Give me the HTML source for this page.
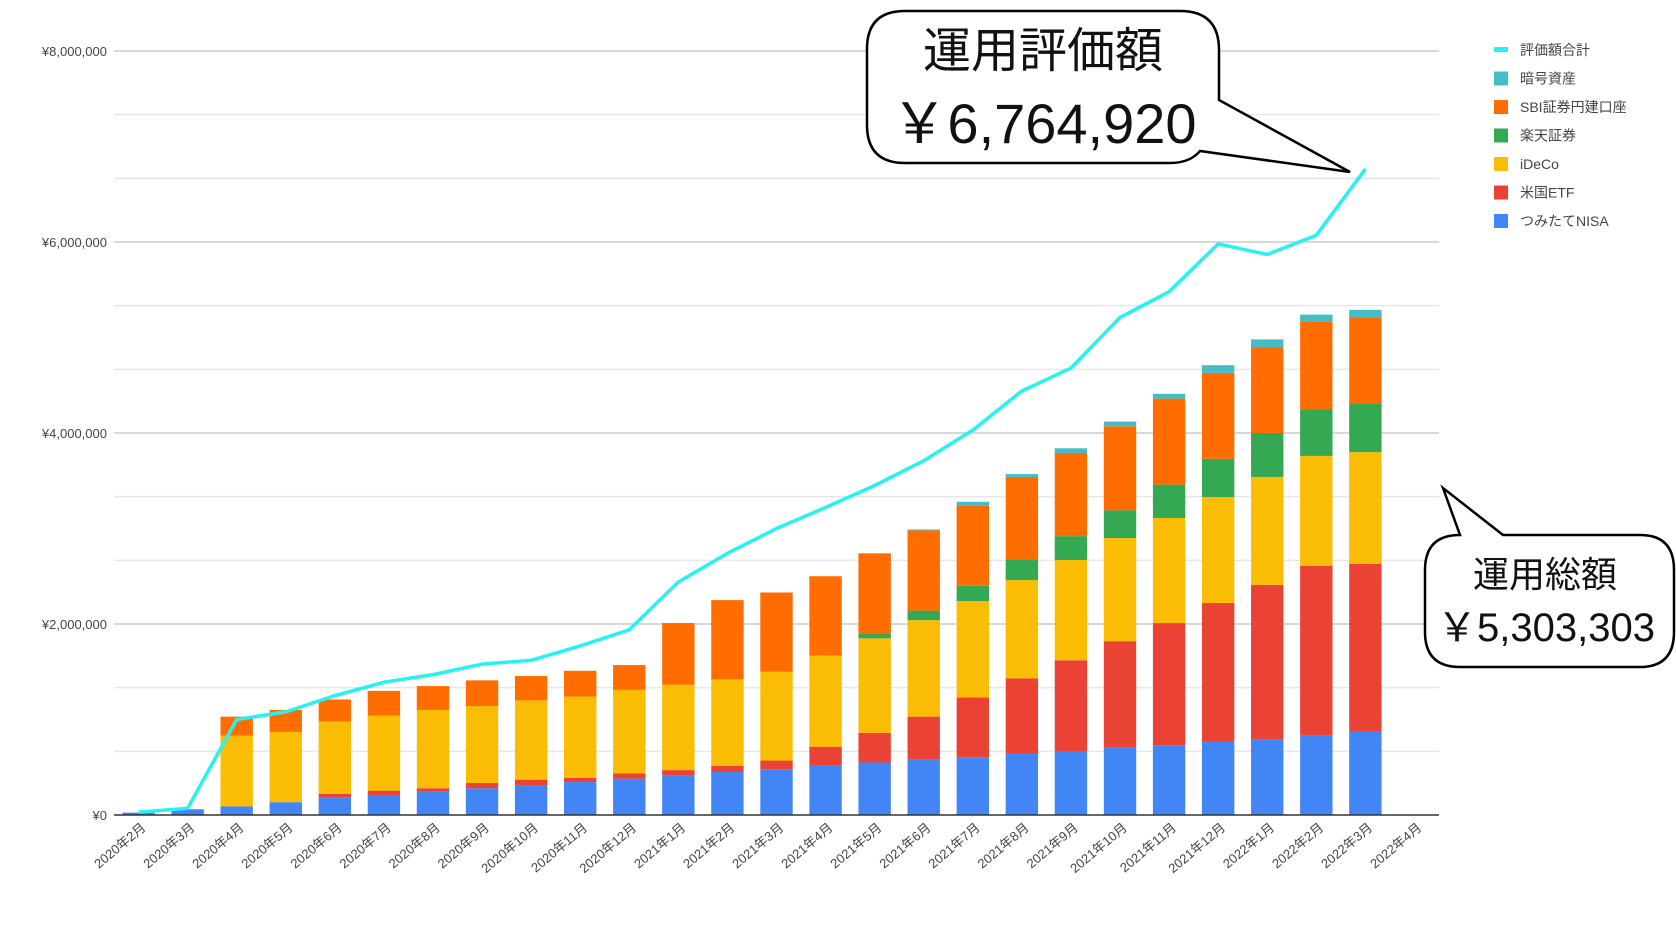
<!DOCTYPE html>
<html lang="ja">
<head>
<meta charset="utf-8">
<style>
html,body{margin:0;padding:0;background:#fff;}
svg{display:block;font-family:"Liberation Sans","Noto Sans CJK JP",sans-serif;}
</style>
</head>
<body>
<svg id="chart" width="1676" height="930" viewBox="0 0 1676 930" xmlns="http://www.w3.org/2000/svg">
  <g id="grid"></g>
  <g id="yticks"></g>
  <g id="bars"></g>
  <g id="xaxis"></g>
  <g id="line"></g>
  <g id="legend"></g>

  <g>
    <path d="M905,11 H1180 Q1219,11 1219,50 V100 L1350,172 L1200,151 Q1190,163 1170,163 H905 Q867,163 867,125 V49 Q867,11 905,11 Z" fill="#fff" stroke="#000" stroke-width="2.5"/>
    <text x="1043" y="67" font-size="48" text-anchor="middle" fill="#111">運用評価額</text>
    <text x="1044" y="143" font-size="56" text-anchor="middle" fill="#111">￥6,764,920</text>
  </g>
  <g>
    <path d="M1460,535 L1443,488 L1503,535 H1640 Q1674,535 1674,570 V632 Q1674,667 1640,667 H1460 Q1425,667 1425,632 V570 Q1425,535 1460,535 Z" fill="#fff" stroke="#000" stroke-width="2.5"/>
    <text x="1545" y="587" font-size="36" text-anchor="middle" fill="#111">運用総額</text>
    <text x="1546" y="641" font-size="40" text-anchor="middle" fill="#111">￥5,303,303</text>
  </g>
</svg>
<script>
const categories = ["2020年2月","2020年3月","2020年4月","2020年5月","2020年6月","2020年7月","2020年8月","2020年9月","2020年10月","2020年11月","2020年12月","2021年1月","2021年2月","2021年3月","2021年4月","2021年5月","2021年6月","2021年7月","2021年8月","2021年9月","2021年10月","2021年11月","2021年12月","2022年1月","2022年2月","2022年3月","2022年4月"];
const nisa   = [25,60,90,134,180,200,245,280,310,345,380,415,450,480,515,550,580,605,640,670,705,730,770,795,830,870,0];
const etf    = [0,0,0,0,40,55,35,55,60,45,55,55,65,90,200,310,450,625,790,950,1115,1280,1450,1615,1780,1760,0];
const ideco  = [0,0,740,736,760,785,820,805,830,850,875,895,905,930,955,990,1010,1010,1030,1050,1080,1100,1110,1130,1150,1170,0];
const rakuten= [0,0,0,0,0,0,0,0,0,0,0,0,0,0,0,50,100,160,210,250,290,350,400,460,490,510,0];
const sbi    = [0,0,200,230,230,260,250,270,255,270,260,645,830,830,830,840,840,840,870,870,880,900,900,900,920,900,0];
const crypto = [0,0,0,0,0,0,0,0,0,0,0,0,0,0,0,0,10,40,30,50,50,50,80,80,70,80,0];
const totalValue = [30,70,1000,1080,1250,1390,1470,1580,1620,1770,1940,2440,2740,3000,3220,3450,3710,4030,4440,4680,5210,5480,5980,5870,6070,6765,null];
const yTickValues = [0,2000,4000,6000,8000];
const yTickLabels = ["¥0","¥2,000,000","¥4,000,000","¥6,000,000","¥8,000,000"];
const seriesNames = ["つみたてNISA","米国ETF","iDeCo","楽天証券","SBI証券円建口座","暗号資産"];
const seriesKeys = ["nisa","etf","ideco","rakuten","sbi","crypto"];
const legendLabels = ["評価額合計","暗号資産","SBI証券円建口座","楽天証券","iDeCo","米国ETF","つみたてNISA"];

const NS="http://www.w3.org/2000/svg";
const colors=["#4285f4","#ea4335","#fbbc04","#34a853","#ff6d01","#46bdc6"];
const lineColor="#27f2f2";
const L=114,R=1439,T=51,B=815,yMax=8000;
const band=(R-L)/categories.length, barW=band*0.66;
const y=v=>B-(v/yMax)*(B-T);
const xc=i=>L+band*(i+0.5);
function mk(tag,attrs,parent){const e=document.createElementNS(NS,tag);for(const k in attrs)e.setAttribute(k,attrs[k]);parent.appendChild(e);return e;}

const grid=document.getElementById('grid');
for(let k=0;k<=12;k++){
  const v=k*yMax/12; if(k===0)continue;
  const ln=mk('line',{x1:L,x2:R,y1:y(v),y2:y(v),stroke:k%3===0?'#cccccc':'#e6e6e6','stroke-width':1.5},grid);
  
  
}
const yt=document.getElementById('yticks');
yTickValues.forEach((v,i)=>{
  const t=mk('text',{x:107,y:y(v)+5,'text-anchor':'end','font-size':13,fill:'#444'},yt);
  t.textContent=yTickLabels[i];
  
  
});

const series={nisa,etf,ideco,rakuten,sbi,crypto};
const bars=document.getElementById('bars');
categories.forEach((c,i)=>{
  let acc=0;
  seriesKeys.forEach((key,s)=>{
    const v=series[key][i]; if(!v)return;
    const r=mk('rect',{x:xc(i)-barW/2,y:y(acc+v),width:barW,height:y(acc)-y(acc+v),fill:colors[s]},bars);
    
    
    acc+=v;
  });
});

const xa=document.getElementById('xaxis');
const axis=mk('line',{x1:L,x2:R,y1:B,y2:B,stroke:'#333','stroke-width':1.5},xa);


categories.forEach((c,i)=>{
  const t=mk('text',{x:xc(i)+8,y:B+14,'text-anchor':'end','font-size':13,fill:'#444',transform:`rotate(-40 ${xc(i)+8} ${B+14})`},xa);
  t.textContent=c;
  
  
});

const lg=document.getElementById('line');
const pts=totalValue.map((v,i)=>v==null?null:[xc(i),y(v)]).filter(p=>p);
const pl=mk('polyline',{points:pts.map(p=>p.join(',')).join(' '),fill:'none',stroke:lineColor,'stroke-width':3.5,'stroke-linejoin':'round'},lg);



const leg=document.getElementById('legend');
const legColors=[lineColor,colors[5],colors[4],colors[3],colors[2],colors[1],colors[0]];
legendLabels.forEach((lab,i)=>{
  const yy=50+i*28.5;
  let sw;
  if(i===0) sw=mk('rect',{x:1494,y:yy-3,width:14,height:5,fill:legColors[i]},leg);
  else sw=mk('rect',{x:1494,y:yy-7,width:14,height:14,fill:legColors[i]},leg);
  
  
  const t=mk('text',{x:1520,y:yy+5,'font-size':14,fill:'#444'},leg);
  t.textContent=lab;
  
  
});
</script>
</body>
</html>
